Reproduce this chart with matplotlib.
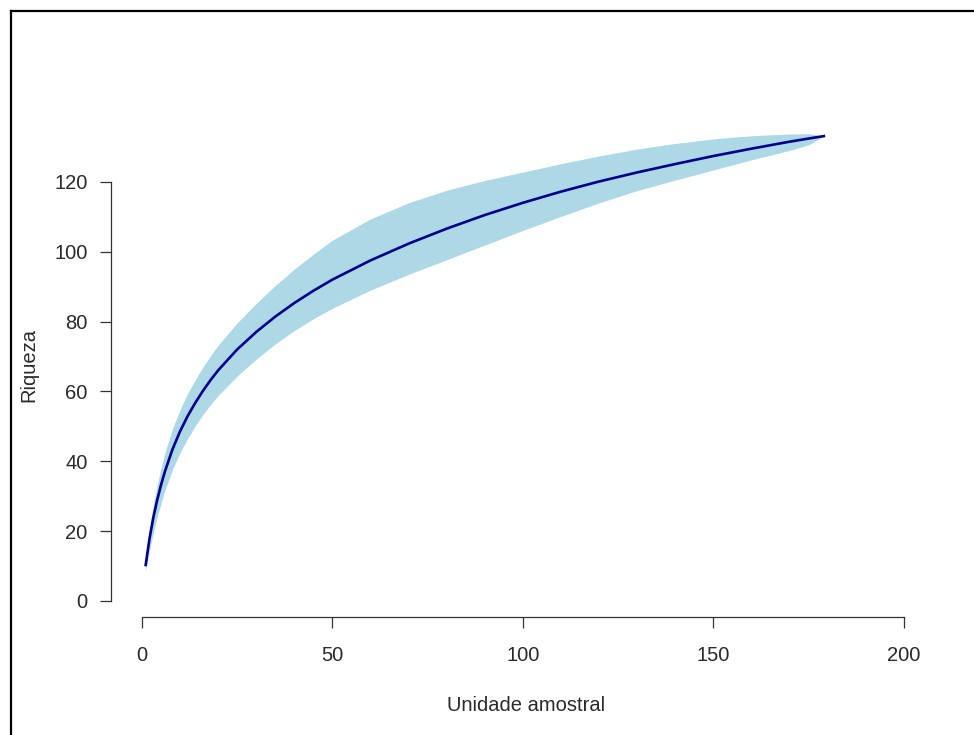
import matplotlib
matplotlib.use('Agg')
import matplotlib.pyplot as plt
from matplotlib.lines import Line2D

plt.rcParams['font.family'] = ['Liberation Sans', 'DejaVu Sans']

# species accumulation curve
unidades = [1, 2, 3, 4, 5, 6, 8, 10, 12, 14, 16, 18, 20, 25, 30, 35, 40, 45, 50,
            60, 70, 80, 90, 100, 110, 120, 130, 140, 150, 160, 170, 175, 179]
riqueza = [10.3, 17.8, 23.8, 28.8, 33.1, 36.9, 43.3, 48.5, 52.9, 56.7, 60.1, 63.2, 66.0,
           72.0, 77.0, 81.4, 85.3, 88.8, 92.0, 97.5, 102.3, 106.6, 110.5, 114.0,
           117.2, 120.1, 122.7, 125.1, 127.4, 129.5, 131.5, 132.4, 133.1]
superior = [12.0, 21.0, 27.5, 33.0, 38.0, 42.2, 49.2, 54.7, 59.4, 63.3, 66.9, 70.2, 73.2,
            79.6, 85.2, 90.3, 95.0, 99.3, 103.3, 109.4, 114.0, 117.6, 120.4, 122.8,
            125.2, 127.4, 129.4, 131.0, 132.3, 133.2, 133.7, 133.8, 133.1]
inferior = [8.5, 14.5, 19.5, 24.0, 27.8, 31.5, 37.5, 42.4, 46.5, 50.1, 53.3, 56.2, 58.8,
            64.4, 69.2, 73.6, 77.4, 80.8, 83.8, 89.0, 93.5, 97.7, 101.9, 106.1,
            110.1, 114.0, 117.5, 120.5, 123.4, 126.3, 129.0, 130.6, 133.1]

xticks = [0, 50, 100, 150, 200]
yticks = [0, 20, 40, 60, 80, 100, 120]

W, H = 974, 735
fig = plt.figure(figsize=(W / 100, H / 100), dpi=100)
ax = fig.add_axes([111 / W, (H - 617) / H, 831 / W, 505 / H])

ax.fill_between(unidades, inferior, superior, color='#ADD8E6', linewidth=0)
ax.plot(unidades, riqueza, color='#00008B', linewidth=1.9)

ax.set_xlim(-8.1, 210)
ax.set_ylim(-4.6, 140)

for s in ['top', 'right']:
    ax.spines[s].set_visible(False)
ax.spines['left'].set_bounds(0, 120)
ax.spines['bottom'].set_bounds(0, 200)
for s in ['left', 'bottom']:
    ax.spines[s].set_color('#333333')
    ax.spines[s].set_linewidth(0.9)

ax.set_xticks(xticks)
ax.set_yticks(yticks)
ax.tick_params(axis='both', length=8, width=0.9, color='#333333',
               labelsize=14.5, labelcolor='#2a2a2a')
ax.tick_params(axis='x', pad=13)
ax.tick_params(axis='y', pad=9)

ax.set_xlabel('Unidade amostral', fontsize=14.5, color='#2a2a2a', labelpad=22)
ax.set_ylabel('Riqueza', fontsize=14.5, color='#2a2a2a', labelpad=11)

# outer frame (only top and left edges visible)
fig.add_artist(Line2D([10.5 / W, 10.5 / W], [0, 1 - 11 / H], transform=fig.transFigure,
                      color='black', linewidth=1.6))
fig.add_artist(Line2D([10.5 / W, 1], [1 - 11 / H, 1 - 11 / H], transform=fig.transFigure,
                      color='black', linewidth=1.6))

fig.savefig('out.png', dpi=100, facecolor='white')
